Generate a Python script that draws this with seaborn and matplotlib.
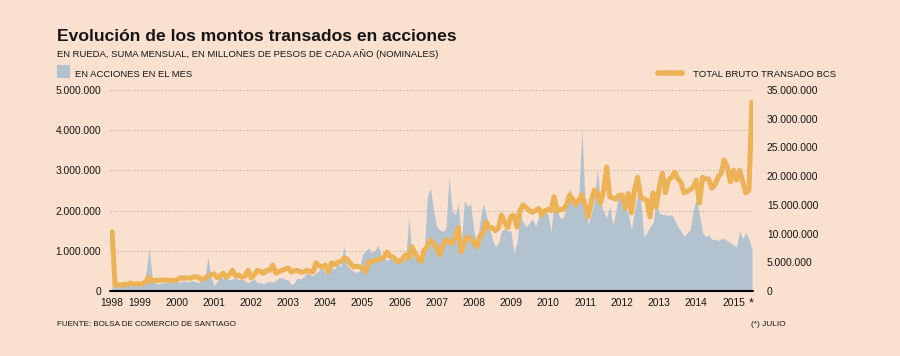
# Montos transados en acciones - Bolsa de Comercio de Santiago
# Area = acciones en el mes (eje izq), linea = total bruto transado BCS (eje der)

import numpy as np
import pandas as pd
import matplotlib
matplotlib.use("Agg")
import matplotlib.pyplot as plt
from matplotlib.ticker import FuncFormatter
import seaborn as sns

# Data (miles de millones de pesos, mensual, abr-1998 a jul-2015)
acciones_mes = [
    120, 150, 130, 160, 140, 120, 150, 160, 140,                         # 1998 (abr-dic)
    180, 200, 450, 1070, 350, 200, 180, 200, 220, 210, 230, 240,         # 1999
    230, 220, 250, 220, 240, 260, 230, 220, 250, 280, 850, 350,          # 2000
    130, 240, 360, 300, 320, 280, 300, 330, 280, 300, 260, 200,          # 2001
    250, 300, 200, 210, 180, 220, 250, 220, 260, 320, 340, 290,          # 2002
    280, 150, 200, 330, 300, 350, 450, 420, 380, 450, 520, 600,          # 2003
    450, 500, 570, 550, 700, 600, 1120, 650, 550, 500, 450, 500,         # 2004
    900, 1000, 1070, 950, 1000, 1140, 900, 800, 770, 800, 850, 800,      # 2005
    850, 800, 780, 1840, 900, 800, 850, 900, 1000, 2350, 2560, 2000,     # 2006
    1600, 1520, 1480, 1550, 2840, 2000, 1900, 2180, 1200, 2260, 2100, 2180,  # 2007
    1500, 1200, 1700, 2180, 1900, 1600, 1300, 1100, 1200, 1500, 1550, 1500,  # 2008
    1500, 950, 1200, 1900, 1700, 1600, 1700, 1800, 1600, 1850, 1900, 2000,   # 2009
    1900, 1470, 2300, 2000, 1800, 1820, 2100, 2560, 2300, 2300, 2400, 4050,  # 2010
    2200, 1650, 1900, 2300, 3000, 2200, 1970, 1820, 2100, 1650, 2000, 2440,  # 2011
    2300, 2100, 1900, 1520, 2000, 2400, 2260, 1340, 1450, 1600, 1700, 2200,  # 2012
    1940, 1900, 1900, 1880, 1900, 1770, 1600, 1500, 1350, 1450, 1520, 2000,  # 2013
    2300, 1900, 1450, 1350, 1400, 1270, 1300, 1250, 1300, 1300, 1250, 1200,  # 2014
    1150, 1100, 1520, 1300, 1450, 1300, 1020,                            # 2015 (ene-jul)
]

total_bcs = [
    10300, 1000, 1100, 1000, 1200, 1100, 1400, 1200, 1300,                # 1998
    1200, 1300, 1600, 2400, 1700, 1900, 1800, 1900, 1900, 1900, 1800, 1900,  # 1999
    1900, 2300, 2200, 2300, 2200, 2400, 2500, 2400, 2000, 2200, 2600, 2800,  # 2000
    3000, 2300, 2600, 3100, 2400, 2900, 3600, 2600, 2800, 2400, 2600, 3600,  # 2001
    2300, 2800, 3600, 3400, 3100, 3600, 3600, 4500, 3100, 3400, 3600, 3800,  # 2002
    4000, 3300, 3500, 3600, 3300, 3300, 3600, 3400, 3300, 4900, 4400, 4200,  # 2003
    4500, 3300, 4900, 4600, 5000, 5100, 5700, 5600, 4900, 4200, 4300, 4200,  # 2004
    4000, 3300, 5100, 5000, 5400, 5400, 5600, 5900, 6800, 6000, 5900, 5300,  # 2005
    5100, 5600, 6300, 5700, 7700, 6500, 5700, 5100, 7100, 7700, 8900, 8300,  # 2006
    7500, 6300, 8000, 8900, 8600, 8300, 9500, 11000, 6800, 8500, 9400, 9000,  # 2007
    8500, 7700, 9500, 10100, 12000, 11000, 11000, 10500, 11000, 13200, 12000, 11000,  # 2008
    13000, 13200, 11100, 14100, 15000, 14500, 14000, 13700, 14000, 14400, 13200, 14000,  # 2009
    14200, 14000, 16400, 13900, 14200, 14200, 15000, 16700, 16000, 15000, 15800, 16700,  # 2010
    15000, 12900, 15500, 17600, 17100, 15300, 17500, 21600, 16400, 16200, 16000, 16700,  # 2011
    16700, 14400, 17000, 13600, 17500, 19800, 16400, 16000, 15800, 12900, 17100, 14600,  # 2012
    18000, 20500, 17100, 19300, 19800, 20700, 19500, 19000, 17100, 17300, 17600, 18100,  # 2013
    19300, 15300, 19800, 19500, 19500, 17900, 18500, 19800, 20500, 22800, 21600, 19000,  # 2014
    21000, 19300, 21000, 19000, 17100, 17500, 32900,                          # 2015
]

years = list(range(1999, 2016))
year_labels = ["1998"] + [str(y) for y in years]

# Build monthly table
fechas = pd.date_range("1998-04-01", periods=len(acciones_mes), freq="MS")
df = pd.DataFrame({
    "t": fechas.year + (fechas.month - 1) / 12,
    "acciones": np.array(acciones_mes) * 1000,
    "total": np.array(total_bcs) * 1000,
})

# Colours
BG = "#F9E0CF"
AREA = "#B3C2CF"
LINE = "#ECB255"
TXT = "#161616"

sns.set_style("white")
plt.rcParams["font.family"] = ["Liberation Sans", "DejaVu Sans"]

fig = plt.figure(figsize=(9, 3.56), dpi=100)
fig.patch.set_facecolor(BG)
ax = fig.add_axes([110 / 900, 1 - 291 / 356, 643 / 900, 201 / 356])
ax.set_facecolor("none")
ax2 = ax.twinx()

# Area: acciones en el mes
ax.fill_between(df["t"], df["acciones"], color=AREA, lw=0, zorder=1)

# Line: total bruto transado
sns.lineplot(data=df, x="t", y="total", ax=ax2, color=LINE, linewidth=3.6,
             solid_capstyle="round", solid_joinstyle="round")

ax.set_xlim(1998.196, 2015.527)
ax.set_ylim(0, 5_000_000)
ax2.set_ylim(0, 35_000_000)

fmt = FuncFormatter(lambda v, p: f"{int(v):,}".replace(",", "."))
ax.set_yticks(np.arange(0, 5_000_001, 1_000_000))
ax2.set_yticks(np.arange(0, 35_000_001, 5_000_000))
ax.yaxis.set_major_formatter(fmt)
ax2.yaxis.set_major_formatter(fmt)

ax.set_xticks([1998.25] + years)
ax.set_xticklabels(year_labels)

ax.tick_params(axis="y", length=0, pad=6.5, labelsize=7.4, labelcolor=TXT)
ax2.tick_params(axis="y", length=0, pad=10, labelsize=7.4, labelcolor=TXT)
ax.tick_params(axis="x", length=0, pad=5, labelsize=7.4, labelcolor=TXT)

ax.set_xlabel("")
ax.set_ylabel("")
ax2.set_xlabel("")
ax2.set_ylabel("")

# Dotted gridlines on left axis
ax.grid(axis="y", linestyle=(0, (1.5, 2)), color="#BFB2A8", lw=0.7)
ax.grid(axis="x", visible=False)
ax.set_axisbelow(True)

for a in (ax, ax2):
    for s in ("top", "left", "right", "bottom"):
        a.spines[s].set_visible(False)
ax.axhline(0, color="black", lw=1.5, zorder=5, clip_on=False)

# Titles and legend
fig.text(57 / 900, 1 - 41 / 356, "Evolución de los montos transados en acciones",
         fontsize=12.6, fontweight="bold", color=TXT, va="baseline")
fig.text(57 / 900, 1 - 57 / 356,
         "EN RUEDA, SUMA MENSUAL, EN MILLONES DE PESOS DE CADA AÑO (NOMINALES)",
         fontsize=6.8, color=TXT, va="baseline")

fig.patches.append(plt.Rectangle((57 / 900, 1 - 78 / 356), 13 / 900, 13 / 356,
                                 transform=fig.transFigure, color=AREA, lw=0))
fig.text(75 / 900, 1 - 77 / 356, "EN ACCIONES EN EL MES", fontsize=6.8,
         color=TXT, va="baseline")

fig.lines.append(plt.Line2D([658 / 900, 682 / 900], [1 - 73 / 356] * 2,
                            transform=fig.transFigure, color=LINE, lw=4,
                            solid_capstyle="round"))
fig.text(693 / 900, 1 - 77 / 356, "TOTAL BRUTO TRANSADO BCS", fontsize=6.8,
         color=TXT, va="baseline")

fig.text(749 / 900, 1 - 306 / 356, "*", fontsize=9, color=TXT, va="baseline")

fig.text(57 / 900, 1 - 326 / 356, "FUENTE: BOLSA DE COMERCIO DE SANTIAGO",
         fontsize=5.8, color=TXT, va="baseline")
fig.text(786 / 900, 1 - 326 / 356, "(*) JULIO", fontsize=6, color=TXT,
         va="baseline", ha="right")

fig.savefig("out.png", dpi=100, facecolor=BG)
